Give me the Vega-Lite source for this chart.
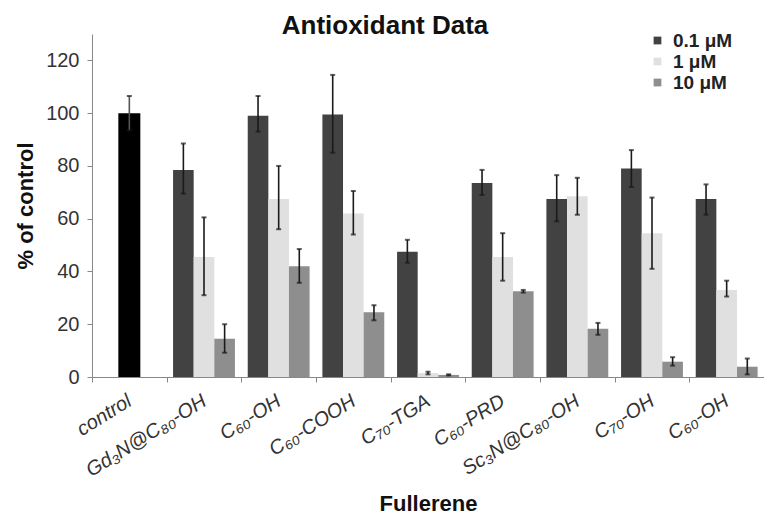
{
  "$schema": "https://vega.github.io/schema/vega-lite/v6.json",
  "width": 672,
  "height": 343,
  "autosize": {"type": "none"},
  "padding": {"left": 92, "top": 34, "right": 0, "bottom": 138},
  "background": "white",
  "config": {
    "font": "Liberation Sans",
    "view": {"stroke": null},
    "axis": {"grid": false, "domainColor": "#888888", "tickColor": "#888888", "labelColor": "#333333", "titleColor": "#111111"}
  },
  "title": {
    "text": "Antioxidant Data",
    "fontSize": 26,
    "fontWeight": "bold",
    "color": "#111111",
    "anchor": "middle",
    "frame": "group",
    "dx": -43,
    "dy": 31,
    "baseline": "alphabetic",
    "offset": 2
  },
  "datasets": {
    "bars": [
      {"compound": "control", "conc": "control", "value": 100, "lo": 93.5, "hi": 106.5},
      {"compound": "Gd₃N@C₈₀-OH", "conc": "0.1 μM", "value": 78.5, "lo": 69.5, "hi": 88.5},
      {"compound": "Gd₃N@C₈₀-OH", "conc": "1 μM", "value": 45.5, "lo": 31, "hi": 60.5},
      {"compound": "Gd₃N@C₈₀-OH", "conc": "10 μM", "value": 14.5, "lo": 9.2, "hi": 20},
      {"compound": "C₆₀-OH", "conc": "0.1 μM", "value": 99, "lo": 93, "hi": 106.5},
      {"compound": "C₆₀-OH", "conc": "1 μM", "value": 67.5, "lo": 56, "hi": 80},
      {"compound": "C₆₀-OH", "conc": "10 μM", "value": 42, "lo": 35.7, "hi": 48.5},
      {"compound": "C₆₀-COOH", "conc": "0.1 μM", "value": 99.5, "lo": 85, "hi": 114.5},
      {"compound": "C₆₀-COOH", "conc": "1 μM", "value": 62, "lo": 54, "hi": 70.5},
      {"compound": "C₆₀-COOH", "conc": "10 μM", "value": 24.5, "lo": 21.5, "hi": 27.2},
      {"compound": "C₇₀-TGA", "conc": "0.1 μM", "value": 47.5, "lo": 43.3, "hi": 52},
      {"compound": "C₇₀-TGA", "conc": "1 μM", "value": 1.5, "lo": 1, "hi": 2},
      {"compound": "C₇₀-TGA", "conc": "10 μM", "value": 0.8, "lo": 0.6, "hi": 1},
      {"compound": "C₆₀-PRD", "conc": "0.1 μM", "value": 73.5, "lo": 69, "hi": 78.5},
      {"compound": "C₆₀-PRD", "conc": "1 μM", "value": 45.5, "lo": 36.5, "hi": 54.5},
      {"compound": "C₆₀-PRD", "conc": "10 μM", "value": 32.5, "lo": 32, "hi": 33},
      {"compound": "Sc₃N@C₈₀-OH", "conc": "0.1 μM", "value": 67.5, "lo": 59, "hi": 76.5},
      {"compound": "Sc₃N@C₈₀-OH", "conc": "1 μM", "value": 68.5, "lo": 61.5, "hi": 75.5},
      {"compound": "Sc₃N@C₈₀-OH", "conc": "10 μM", "value": 18.3, "lo": 16, "hi": 20.5},
      {"compound": "C₇₀-OH", "conc": "0.1 μM", "value": 79, "lo": 72, "hi": 86},
      {"compound": "C₇₀-OH", "conc": "1 μM", "value": 54.5, "lo": 41, "hi": 68},
      {"compound": "C₇₀-OH", "conc": "10 μM", "value": 5.8, "lo": 4.3, "hi": 7.5},
      {"compound": "C₆₀-OH\u200b", "conc": "0.1 μM", "value": 67.5, "lo": 61.5, "hi": 73},
      {"compound": "C₆₀-OH\u200b", "conc": "1 μM", "value": 33, "lo": 30.5, "hi": 36.5},
      {"compound": "C₆₀-OH\u200b", "conc": "10 μM", "value": 3.9, "lo": 1, "hi": 7}
    ]
  },
  "data": {"name": "bars"},
  "encoding": {
    "x": {
      "field": "compound",
      "type": "nominal",
      "sort": null,
      "scale": {
        "domain": ["control", "Gd₃N@C₈₀-OH", "C₆₀-OH", "C₆₀-COOH", "C₇₀-TGA", "C₆₀-PRD", "Sc₃N@C₈₀-OH", "C₇₀-OH", "C₆₀-OH\u200b"],
        "paddingInner": 0,
        "paddingOuter": 0
      },
      "axis": {
        "title": "Fullerene",
        "titleFontSize": 22,
        "titleFontWeight": "bold",
        "titleY": 133,
        "titleBaseline": "alphabetic",
        "labelAngle": -32,
        "labelAlign": "right",
        "labelBaseline": "middle",
        "labelFontSize": 20,
        "labelFontStyle": "italic",
        "labelPadding": 17,
        "tickBand": "extent",
        "tickSize": 5
      }
    }
  },
  "layer": [
    {
      "transform": [{"filter": "datum.conc !== 'control'"}],
      "mark": {"type": "bar"},
      "encoding": {
        "xOffset": {"field": "conc", "type": "nominal", "sort": ["0.1 μM", "1 μM", "10 μM"], "scale": {"paddingInner": 0, "paddingOuter": 0.31}},
        "y": {
          "field": "value",
          "type": "quantitative",
          "scale": {"domain": [0, 130], "nice": false},
          "axis": {
            "title": "% of control",
            "titleFontSize": 22,
            "titleFontWeight": "bold",
            "titlePadding": 8,
            "values": [0, 20, 40, 60, 80, 100, 120],
            "labelFontSize": 20,
            "labelPadding": 8,
            "tickSize": 5
          }
        },
        "color": {
          "field": "conc",
          "type": "nominal",
          "sort": ["0.1 μM", "1 μM", "10 μM"],
          "scale": {"domain": ["0.1 μM", "1 μM", "10 μM"], "range": ["#424242", "#e0e0e0", "#8e8e8e"]},
          "legend": {
            "title": null,
            "orient": "none",
            "legendX": 556,
            "legendY": -3,
            "symbolType": "square",
            "symbolSize": 60,
            "symbolStrokeWidth": 0,
            "labelFontSize": 19,
            "labelFontWeight": "bold",
            "labelColor": "#222222",
            "labelOffset": 6,
            "rowPadding": 1
          }
        }
      }
    },
    {
      "transform": [{"filter": "datum.conc === 'control'"}],
      "mark": {"type": "bar", "color": "#000000", "width": 22},
      "encoding": {
        "y": {"field": "value", "type": "quantitative"}
      }
    },
    {
      "transform": [{"filter": "datum.conc !== 'control'"}],
      "mark": {"type": "rule", "color": "#1a1a1a", "strokeWidth": 1.6},
      "encoding": {
        "xOffset": {"field": "conc", "type": "nominal", "sort": ["0.1 μM", "1 μM", "10 μM"]},
        "y": {"field": "lo", "type": "quantitative"},
        "y2": {"field": "hi"}
      }
    },
    {
      "transform": [{"filter": "datum.conc !== 'control'"}, {"fold": ["lo", "hi"], "as": ["end", "ev"]}],
      "mark": {"type": "tick", "color": "#1a1a1a", "size": 5, "thickness": 2},
      "encoding": {
        "xOffset": {"field": "conc", "type": "nominal", "sort": ["0.1 μM", "1 μM", "10 μM"]},
        "y": {"field": "ev", "type": "quantitative"}
      }
    },
    {
      "transform": [{"filter": "datum.conc === 'control'"}],
      "mark": {"type": "rule", "color": "#555555", "strokeWidth": 1.6},
      "encoding": {
        "y": {"field": "lo", "type": "quantitative"},
        "y2": {"field": "hi"}
      }
    },
    {
      "transform": [{"filter": "datum.conc === 'control'"}, {"fold": ["lo", "hi"], "as": ["end", "ev"]}],
      "mark": {"type": "tick", "color": "#1a1a1a", "size": 5, "thickness": 2},
      "encoding": {
        "y": {"field": "ev", "type": "quantitative"}
      }
    }
  ]
}
